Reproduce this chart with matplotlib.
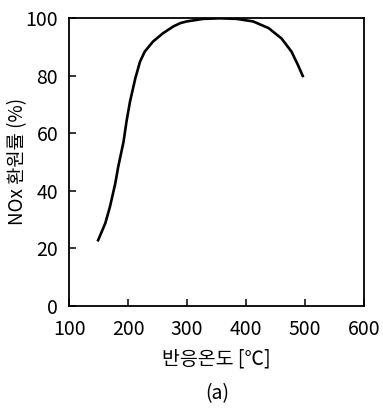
import matplotlib
matplotlib.use("Agg")
import matplotlib.pyplot as plt

plt.rcParams['font.family'] = ['Noto Sans CJK KR', 'DejaVu Sans']

temperature = [148, 161, 169, 178, 183, 192, 197, 203, 212, 220, 228, 242, 259, 276,
               288, 299, 327, 355, 384, 412, 438, 460, 477, 488, 497]
conversion = [22.3, 28.6, 34.4, 42.5, 48.3, 57.0, 64.0, 71.0, 79.1, 84.9, 88.4, 91.9, 94.8, 97.1,
              98.3, 98.9, 99.8, 100.0, 99.8, 98.9, 96.6, 93.0, 88.4, 83.7, 79.5]
xticks = [100, 200, 300, 400, 500, 600]
yticks = [0, 20, 40, 60, 80, 100]

fig = plt.figure(figsize=(3.83, 4.08), dpi=100)
W, H = 383, 408
ax = fig.add_axes([69.3 / W, 1 - 305.5 / H, (364 - 69.3) / W, (305.5 - 18.3) / H])

ax.plot(temperature, conversion, color='black', lw=1.9, solid_joinstyle='round',
        solid_capstyle='butt')
ax.set_xlim(100, 600)
ax.set_ylim(0, 100)
ax.set_xticks(xticks)
ax.set_yticks(yticks)
ax.tick_params(direction='in', length=5, width=1.1, labelsize=14)
ax.tick_params(axis='x', pad=10)
ax.tick_params(axis='y', pad=8)
for s in ax.spines.values():
    s.set_linewidth(1.3)

ax.set_xlabel('반응온도 [℃]', fontsize=14, va='center')
ax.xaxis.set_label_coords(0.5, (305.5 - 359) / 287.2)
ax.set_ylabel('NOx 환원률 (%)', fontsize=13.5, va='center')
ax.yaxis.set_label_coords((18 - 69.3) / 294.7, 0.5)
fig.text(217 / W, 1 - 394 / H, '(a)', ha='center', va='center', fontsize=14)

fig.savefig('out.png', dpi=100)
